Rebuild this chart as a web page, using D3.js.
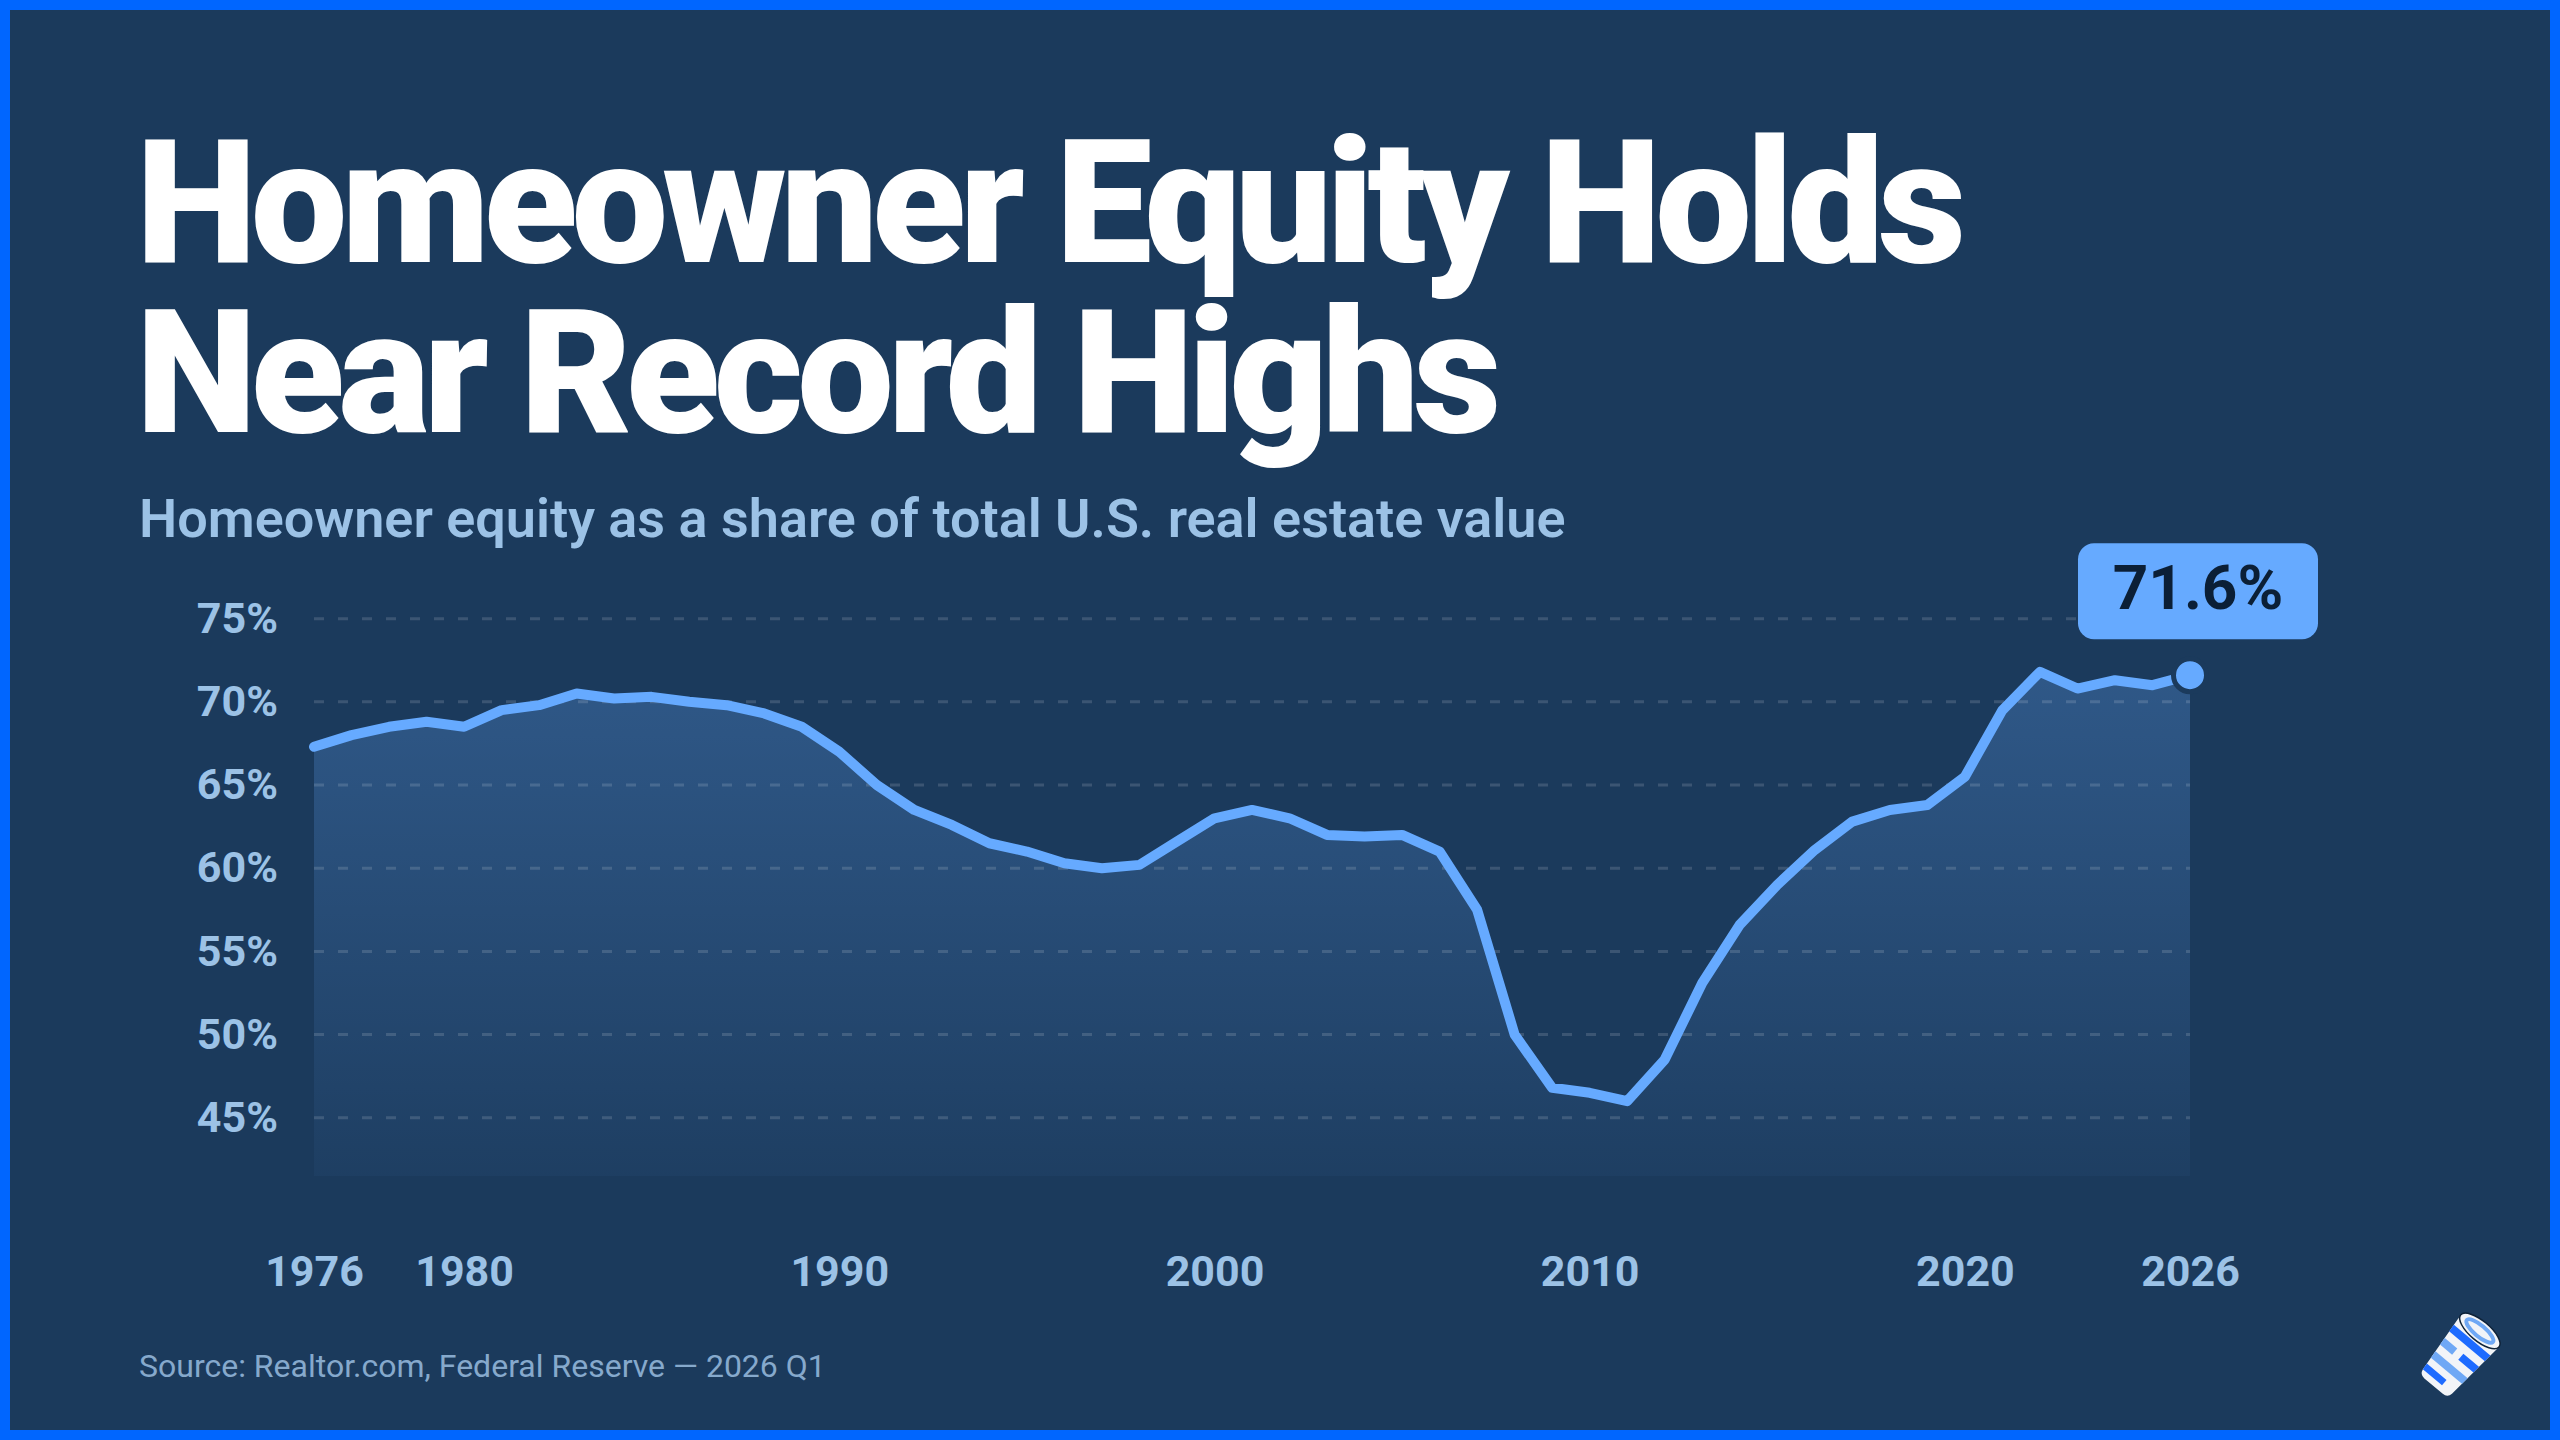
<!DOCTYPE html>
<html>
<head>
<meta charset="utf-8">
<script src="https://cdn.jsdelivr.net/npm/d3@7"></script>
<style>
  html, body { margin: 0; padding: 0; background: #1B3A5C; }
  svg { display: block; }
  text { font-family: Roboto, "Noto Sans", sans-serif; }
</style>
</head>
<body>
<svg id="chart" width="2560" height="1440"></svg>
<script>
/* ===========================================================
   Homeowner equity share, 1976-2026
   =========================================================== */

const years = [
  1976, 1977, 1978, 1979, 1980, 1981, 1982, 1983, 1984, 1985,
  1986, 1987, 1988, 1989, 1990, 1991, 1992, 1993, 1994, 1995,
  1996, 1997, 1998, 1999, 2000, 2001, 2002, 2003, 2004, 2005,
  2006, 2007, 2008, 2009, 2010, 2011, 2012, 2013, 2014, 2015,
  2016, 2017, 2018, 2019, 2020, 2021, 2022, 2023, 2024, 2025, 2026
];
const equityShare = [
  67.3, 68.0, 68.5, 68.8, 68.5, 69.5, 69.8, 70.5, 70.2, 70.3,
  70.0, 69.8, 69.3, 68.5, 67.0, 65.0, 63.5, 62.6, 61.5, 61.0,
  60.3, 60.0, 60.2, 61.6, 63.0, 63.5, 63.0, 62.0, 61.9, 62.0,
  61.0, 57.5, 50.0, 46.8, 46.5, 46.0, 48.5, 53.1, 56.6, 59.0,
  61.1, 62.8, 63.5, 63.8, 65.5, 69.5, 71.8, 70.8, 71.3, 71.0, 71.6
];
const yTicks = [45, 50, 55, 60, 65, 70, 75];
const xTicks = [1976, 1980, 1990, 2000, 2010, 2020, 2026];

const titleLines = ['Homeowner Equity Holds', 'Near Record Highs'];
const subtitle = 'Homeowner equity as a share of total U.S. real estate value';
const source = 'Source: Realtor.com, Federal Reserve \u2014 2026 Q1';

const BG = '#1B3A5C';
const LINE = '#66AAFF';
const LABEL = '#9CC2E6';

const data = years.map((yr, i) => ({ year: yr, value: equityShare[i] }));

const svg = d3.select('#chart');
const w = 2560, h = 1440;

// ── background + frame ─────────────────────────────────────
svg.append('rect').attr('width', w).attr('height', h).attr('fill', BG);
svg.append('rect')
  .attr('x', 5).attr('y', 5).attr('width', w - 10).attr('height', h - 10)
  .attr('fill', 'none').attr('stroke', '#0066FF').attr('stroke-width', 10);

// ── titles ─────────────────────────────────────────────────
titleLines.forEach((t, i) => {
  svg.append('text')
    .attr('x', 136).attr('y', 262 + i * 170)
    .attr('fill', '#FFFFFF')
    .attr('font-size', 172).attr('font-weight', 900)
    .attr('letter-spacing', -6)
    .text(t);
});

svg.append('text')
  .attr('x', 139).attr('y', 537)
  .attr('fill', LABEL)
  .attr('font-size', 54).attr('font-weight', 600)
  .text(subtitle);

svg.append('text')
  .attr('x', 139).attr('y', 1377)
  .attr('fill', '#86A9CC')
  .attr('font-size', 32).attr('font-weight', 400)
  .text(source);

// ── chart ──────────────────────────────────────────────────
const margin = { top: 602, right: 370, bottom: 264, left: 314 };
const W = w - margin.left - margin.right;
const H = h - margin.top - margin.bottom;
const g = svg.append('g').attr('transform', `translate(${margin.left},${margin.top})`);

const x = d3.scaleLinear().domain([1976, 2026]).range([0, W]);
const y = d3.scaleLinear().domain([41.5, 76]).range([H, 0]);

const defs = svg.append('defs');
const grad = defs.append('linearGradient')
  .attr('id', 'areaFill')
  .attr('gradientUnits', 'userSpaceOnUse')
  .attr('x1', 0).attr('x2', 0)
  .attr('y1', y(72)).attr('y2', H);
grad.append('stop').attr('offset', 0).attr('stop-color', LINE).attr('stop-opacity', 0.27);
grad.append('stop').attr('offset', 1).attr('stop-color', LINE).attr('stop-opacity', 0.04);

const area = d3.area()
  .x(d => x(d.year))
  .y0(H)
  .y1(d => y(d.value));

g.append('path')
  .datum(data)
  .attr('d', area)
  .attr('fill', 'url(#areaFill)');

// gridlines
g.append('g')
  .selectAll('line')
  .data(yTicks).enter().append('line')
    .attr('x1', 0).attr('x2', W)
    .attr('y1', d => y(d)).attr('y2', d => y(d))
    .attr('stroke', '#FFFFFF').attr('stroke-opacity', 0.14)
    .attr('stroke-width', 3)
    .attr('stroke-dasharray', '10 14');

// axes
const yAxis = g.append('g')
  .call(d3.axisLeft(y).tickValues(yTicks).tickSize(0).tickPadding(36)
    .tickFormat(d => d + '%'));
yAxis.select('.domain').remove();
yAxis.selectAll('text')
  .attr('fill', LABEL)
  .attr('font-size', 43).attr('font-weight', 700)
  .attr('font-family', 'Roboto, sans-serif');

const xAxis = g.append('g')
  .attr('transform', `translate(0,${H})`)
  .call(d3.axisBottom(x).tickValues(xTicks).tickSize(0).tickFormat(d3.format('d')));
xAxis.select('.domain').remove();
xAxis.selectAll('text')
  .attr('y', 110).attr('dy', 0)
  .attr('fill', LABEL)
  .attr('font-size', 43).attr('font-weight', 700)
  .attr('font-family', 'Roboto, sans-serif');

// line
const line = d3.line()
  .x(d => x(d.year))
  .y(d => y(d.value));

g.append('path')
  .datum(data)
  .attr('d', line)
  .attr('fill', 'none')
  .attr('stroke', LINE)
  .attr('stroke-width', 10)
  .attr('stroke-linejoin', 'round')
  .attr('stroke-linecap', 'round');

// last point + callout
const last = data[data.length - 1];
g.append('circle')
  .attr('cx', x(last.year)).attr('cy', y(last.value))
  .attr('r', 16.5)
  .attr('fill', LINE)
  .attr('stroke', BG).attr('stroke-width', 5);

const callout = g.append('g')
  .attr('transform', `translate(${x(last.year) + 8},${y(last.value)})`);
callout.append('rect')
  .attr('x', -120).attr('y', -132).attr('width', 240).attr('height', 96)
  .attr('rx', 16)
  .attr('fill', LINE);
callout.append('text')
  .attr('x', 0).attr('y', -66)
  .attr('text-anchor', 'middle')
  .attr('fill', '#0B1F36')
  .attr('font-size', 62).attr('font-weight', 700)
  .text(d3.format('.1f')(last.value) + '%');

// ── logo (tilted cup) ──────────────────────────────────────
const logo = svg.append('g').attr('transform', 'translate(2458,1357) rotate(40)');
const clip = defs.append('clipPath').attr('id', 'cupClip');
const cupBody = 'M-25,-34 L25,-34 L19,32 Q18,38 12,38 L-12,38 Q-18,38 -19,32 Z';
clip.append('path').attr('d', cupBody);
logo.append('path').attr('d', cupBody).attr('fill', '#F2F4F8');
const stripes = logo.append('g').attr('clip-path', 'url(#cupClip)');
stripes.append('rect').attr('x', -30).attr('y', -22).attr('width', 60).attr('height', 8).attr('fill', '#1E6BFF');
stripes.append('rect').attr('x', -30).attr('y', -6).attr('width', 24).attr('height', 8).attr('fill', '#6FA8F5');
stripes.append('rect').attr('x', 2).attr('y', -6).attr('width', 30).attr('height', 8).attr('fill', '#1E6BFF');
stripes.append('rect').attr('x', -30).attr('y', 10).attr('width', 60).attr('height', 8).attr('fill', '#6FA8F5');
stripes.append('rect').attr('x', -30).attr('y', 25).attr('width', 36).attr('height', 7).attr('fill', '#1E6BFF');
logo.append('ellipse').attr('cx', 0).attr('cy', -34).attr('rx', 25).attr('ry', 10)
  .attr('fill', '#F2F4F8').attr('stroke', '#0E2238').attr('stroke-width', 1.5);
logo.append('ellipse').attr('cx', 0).attr('cy', -34).attr('rx', 17).attr('ry', 5.5)
  .attr('fill', 'none').attr('stroke', '#6FA8F5').attr('stroke-width', 4);
</script>
</body>
</html>
